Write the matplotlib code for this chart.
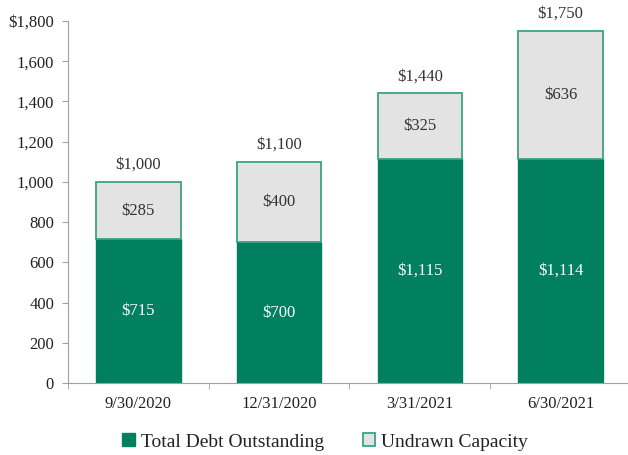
import numpy as np
import matplotlib.pyplot as plt
from matplotlib.ticker import FuncFormatter, FixedLocator

dates = ['9/30/2020', '12/31/2020', '3/31/2021', '6/30/2021']
debt = [715, 700, 1115, 1114]
undrawn = [285, 400, 325, 636]
totals = [1000, 1100, 1440, 1750]

green = '#00805f'
edge = '#3aa383'
light = '#e3e3e3'

plt.rcParams['font.family'] = ['Liberation Serif', 'DejaVu Serif']

fig = plt.figure(figsize=(6.28, 4.55), dpi=100)
ax = fig.add_axes([68/628, 72/455, 560/628, 362/455])

x = np.arange(len(dates))
w = 0.6
ax.bar(x, debt, w, color=green, edgecolor=green, linewidth=1, label='Total Debt Outstanding')
ax.bar(x, undrawn, w, bottom=debt, color=light, edgecolor=edge, linewidth=1.3, label='Undrawn Capacity')

for i in range(len(dates)):
    ax.text(x[i], debt[i] / 2, '$' + format(debt[i], ','), ha='center', va='center',
            color='white', fontsize=12)
    ax.text(x[i], debt[i] + undrawn[i] / 2, '$' + format(undrawn[i], ','), ha='center',
            va='center', color='#333333', fontsize=12)
    ax.text(x[i], totals[i] + 45, '$' + format(totals[i], ','), ha='center', va='bottom',
            color='#333333', fontsize=12)

ax.set_ylim(0, 1800)
ax.set_xlim(-0.5, 3.48)
ax.set_yticks(np.arange(0, 1801, 200))
ax.yaxis.set_major_formatter(FuncFormatter(lambda v, p: ('$' if v == 1800 else '') + format(int(v), ',')))
ax.set_xticks(x)
ax.set_xticklabels(dates)
ax.xaxis.set_minor_locator(FixedLocator([-0.5, 0.5, 1.5, 2.5]))
ax.tick_params(axis='x', which='major', length=0, pad=9, labelsize=12, labelcolor='#222222')
ax.tick_params(axis='x', which='minor', length=4, color='#a0a0a0', direction='out')
ax.tick_params(axis='y', length=4, color='#a0a0a0', labelsize=12, labelcolor='#222222', pad=6)

for s in ['top', 'right']:
    ax.spines[s].set_visible(False)
for s in ['left', 'bottom']:
    ax.spines[s].set_color('#a0a0a0')

leg = fig.legend(loc='center', bbox_to_anchor=(325/628, 13/455), ncol=2, frameon=False,
                 fontsize=14, handlelength=0.65, handleheight=0.65, handletextpad=0.3,
                 columnspacing=2.0)
for t in leg.get_texts():
    t.set_color('#222222')

fig.savefig('out.png', dpi=100)
